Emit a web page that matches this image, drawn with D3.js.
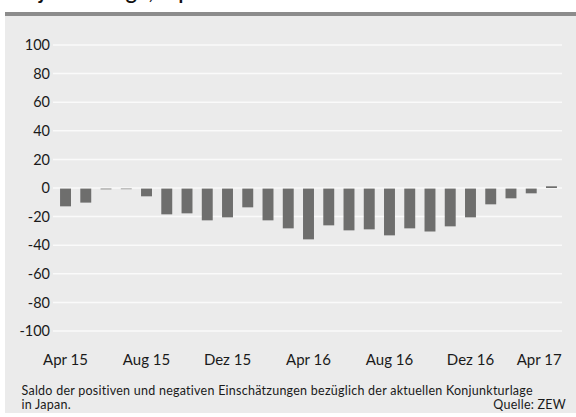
<!DOCTYPE html>
<html>
<head>
<meta charset="utf-8">
<script src="https://cdn.jsdelivr.net/npm/d3@7"></script>
<style>
  body { margin: 0; background: #fff; }
  text { font-family: Lato, "Open Sans", sans-serif; }
</style>
</head>
<body>
<script>
// Monate Apr 15 .. Apr 17, Saldo der Einschaetzungen
let months = ["Apr 15","Mai 15","Jun 15","Jul 15","Aug 15","Sep 15","Okt 15","Nov 15","Dez 15","Jan 16","Feb 16","Mrz 16","Apr 16","Mai 16","Jun 16","Jul 16","Aug 16","Sep 16","Okt 16","Nov 16","Dez 16","Jan 17","Feb 17","Mrz 17","Apr 17"]
let values = [-12.4,-9.8,-0.5,-0.4,-5.4,-18,-17.3,-22.2,-20.1,-13.1,-22.2,-27.8,-35.5,-25.7,-29.2,-28.5,-32.7,-27.8,-30,-26.4,-20.1,-11,-6.8,-3.3,1.2]
let tickMonths = ["Apr 15","Aug 15","Dez 15","Apr 16","Aug 16","Dez 16","Apr 17"]
let yTicks = [100,80,60,40,20,0,-20,-40,-60,-80,-100]

let w = 576
let h = 417

let svg = d3.select("body")
    .append("svg")
    .attr("width", w)
    .attr("height", h)

// title, mostly cut off at the top
svg.append("text")
    .attr("x", 0)
    .attr("y", -1)
    .attr("font-size", 22)
    .attr("font-weight", 600)
    .attr("fill", "#111")
    .text("Konjunkturlage, Japan")

svg.append("rect")
    .attr("x", 5).attr("y", 12)
    .attr("width", w - 5).attr("height", 4)
    .attr("fill", "#8c8c8c")

svg.append("rect")
    .attr("x", 5).attr("y", 16)
    .attr("width", w - 5).attr("height", 397)
    .attr("fill", "#ebebeb")

let xScale = d3.scaleBand()
    .domain(months)
    .range([55.4, 561.6])
    .paddingInner(0.46)
    .paddingOuter(0.23)

let yScale = d3.scaleLinear()
    .domain([-100, 100])
    .range([331, 45])

// grid
svg.selectAll("line.grid")
    .data(yTicks)
    .enter()
    .append("line")
    .attr("class", "grid")
    .attr("x1", 53)
    .attr("x2", 562)
    .attr("y1", d => yScale(d))
    .attr("y2", d => yScale(d))
    .attr("stroke", "#fafafa")
    .attr("stroke-width", 1.5)

svg.selectAll("text.ylab")
    .data(yTicks)
    .enter()
    .append("text")
    .attr("class", "ylab")
    .attr("x", 50)
    .attr("y", d => yScale(d))
    .attr("dy", "0.36em")
    .attr("text-anchor", "end")
    .attr("font-size", 14.5)
    .attr("fill", "#1a1a1a")
    .text(d => d)

svg.selectAll("rect.bar")
    .data(values)
    .enter()
    .append("rect")
    .attr("class", "bar")
    .attr("x", (d, i) => xScale(months[i]))
    .attr("y", d => yScale(Math.max(0, d)) + (d < 0 ? 0.6 : 0))
    .attr("width", xScale.bandwidth())
    .attr("height", d => Math.abs(yScale(d) - yScale(0)))
    .attr("fill", "#6e6e6d")

let rEnd = xScale.range()[1]
svg.selectAll("text.xlab")
    .data(tickMonths)
    .enter()
    .append("text")
    .attr("class", "xlab")
    .attr("y", 365)
    .attr("font-size", 15)
    .attr("fill", "#1a1a1a")
    .text(d => d)
    .each(function(d) {
        let c = xScale(d) + xScale.bandwidth() / 2
        let tw = this.getComputedTextLength()
        let t = d3.select(this)
        if (c + tw / 2 > rEnd) t.attr("x", rEnd).attr("text-anchor", "end")
        else t.attr("x", c).attr("text-anchor", "middle")
    })

// footnote + source
let note = svg.append("text")
    .attr("font-size", 12.5)
    .attr("letter-spacing", 0.25)
    .attr("fill", "#1a1a1a")
note.append("tspan")
    .attr("x", 21.5).attr("y", 394.5)
    .text("Saldo der positiven und negativen Einschätzungen bezüglich der aktuellen Konjunkturlage")
note.append("tspan")
    .attr("x", 21.5).attr("y", 409)
    .text("in Japan.")
note.append("tspan")
    .attr("x", 566).attr("y", 409)
    .attr("text-anchor", "end")
    .text("Quelle: ZEW")
</script>
</body>
</html>
